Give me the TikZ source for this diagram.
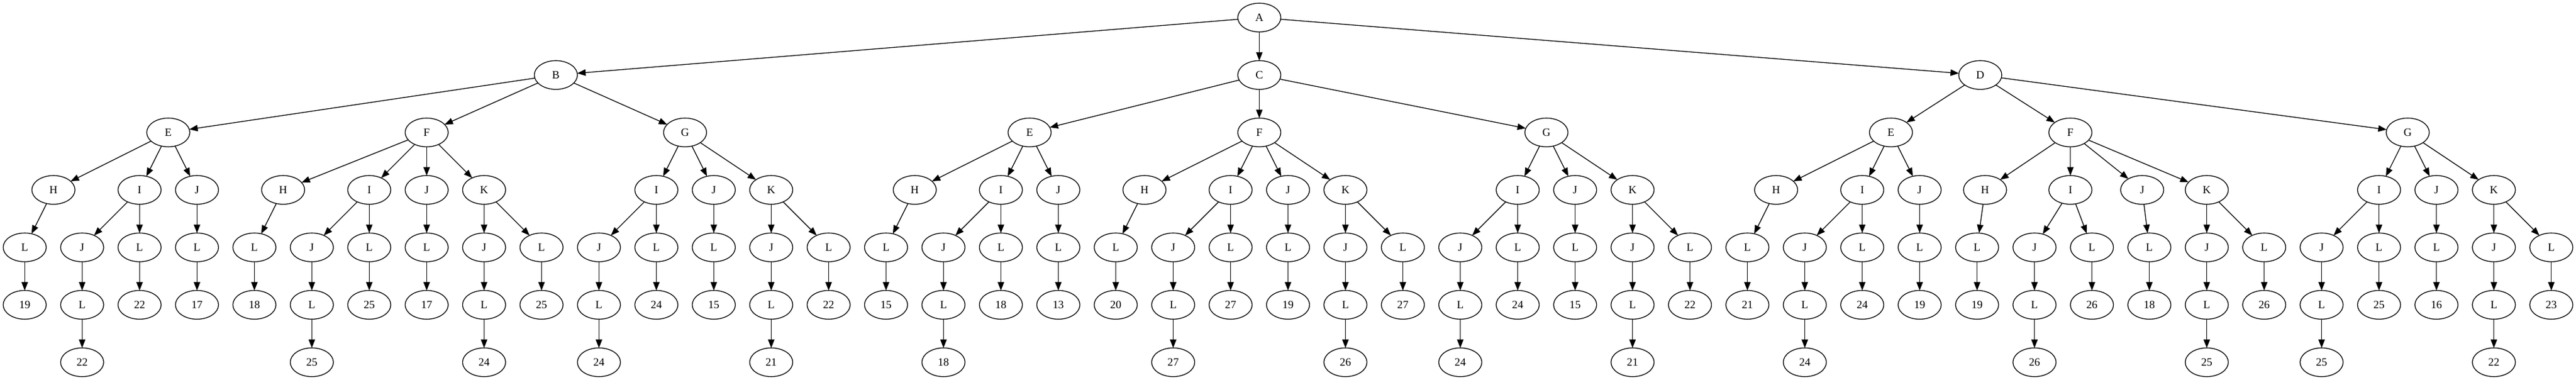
\documentclass[tikz,border=0pt]{standalone}
\usepackage{fontspec}
\setmainfont{Liberation Serif}
\usetikzlibrary{shapes.geometric,arrows.meta,positioning}

\begin{document}
\begin{tikzpicture}[
        x=1pt, y=1pt,
        node distance=36pt,
        vertex/.style={
            ellipse,
            draw=black,
            line width=1pt,
            minimum width=54pt,
            minimum height=36pt,
            inner sep=0pt,
            outer sep=0pt,
            font=\fontsize{14}{16}\selectfont
        },
        arrow/.style={
            ->,
            >={Triangle[length=10.5pt,width=8pt]},
            line width=1pt
        }
    ]
    \useasboundingbox (0,22) rectangle (3230,-454);

    % root and its three subtrees
    \node[vertex] (a) at (1579,0) {A};
    \node[vertex] (b) at (697,-72) {B};
    \node[vertex, below=of a] (c) {C};
    \node[vertex] (d) at (2483,-72) {D};

    % second level
    \foreach \n/\x/\t in {be/211/E, bf/535/F, bg/859/G,
                          ce/1291/E, cf/1579/F, cg/1939/G,
                          de/2371/E, df/2596/F, dg/3019/G}
        \node[vertex] (\n) at (\x,-144) {\t};

    % third level
    \foreach \n/\x/\t in {beh/67/H, bei/175/I, bej/247/J,
                          bfh/355/H, bfi/463/I, bfj/535/J, bfk/607/K,
                          bgi/823/I, bgj/895/J, bgk/967/K,
                          ceh/1147/H, cei/1255/I, cej/1327/J,
                          cfh/1435/H, cfi/1543/I, cfj/1615/J, cfk/1687/K,
                          cgi/1903/I, cgj/1975/J, cgk/2047/K,
                          deh/2227/H, dei/2335/I, dej/2407/J,
                          dfh/2489/H, dfi/2596/I, dfj/2686/J, dfk/2767/K,
                          dgi/2983/I, dgj/3055/J, dgk/3127/K}
        \node[vertex] (\n) at (\x,-216) {\t};

    % fourth level sits on a regular grid
    \foreach \k/\t in {0/L, 1/J, 2/L, 3/L, 4/L, 5/J, 6/L, 7/L, 8/J, 9/L,
                       10/J, 11/L, 12/L, 13/J, 14/L, 15/L, 16/J, 17/L, 18/L, 19/L,
                       20/J, 21/L, 22/L, 23/J, 24/L, 25/J, 26/L, 27/L, 28/J, 29/L,
                       30/L, 31/J, 32/L, 33/L, 34/L, 35/J, 36/L, 37/L, 38/J, 39/L,
                       40/J, 41/L, 42/L, 43/J, 44/L}
        \node[vertex] (n\k) at ({31+72*\k},-288) {\t};

    % fifth level, straight below
    \foreach \k/\t in {0/19, 1/L, 2/22, 3/17, 4/18, 5/L, 6/25, 7/17, 8/L, 9/25,
                       10/L, 11/24, 12/15, 13/L, 14/22, 15/15, 16/L, 17/18, 18/13, 19/20,
                       20/L, 21/27, 22/19, 23/L, 24/27, 25/L, 26/24, 27/15, 28/L, 29/22,
                       30/21, 31/L, 32/24, 33/19, 34/19, 35/L, 36/26, 37/18, 38/L, 39/26,
                       40/L, 41/25, 42/16, 43/L, 44/23}
    {
        \node[vertex, below=of n\k] (v\k) {\t};
        \draw[arrow] (n\k) -- (v\k);
    }

    % sixth level
    \foreach \k/\t in {1/22, 5/25, 8/24, 10/24, 13/21, 16/18, 20/27, 23/26,
                       25/24, 28/21, 31/24, 35/26, 38/25, 40/25, 43/22}
    {
        \node[vertex, below=of v\k] (w\k) {\t};
        \draw[arrow] (v\k) -- (w\k);
    }

    % connections of the upper levels
    \foreach \p/\c in {a/b, a/c, a/d, b/be, b/bf, b/bg,
                       c/ce, c/cf, c/cg, d/de, d/df, d/dg}
        \draw[arrow] (\p) -- (\c);

    \foreach \p/\cs in {be/{h,i,j}, bf/{h,i,j,k}, bg/{i,j,k},
                        ce/{h,i,j}, cf/{h,i,j,k}, cg/{i,j,k},
                        de/{h,i,j}, df/{h,i,j,k}, dg/{i,j,k}}
        \foreach \s in \cs
            \draw[arrow] (\p) -- (\p\s);

    \foreach \p/\ks in {beh/{0}, bei/{1,2}, bej/{3}, bfh/{4}, bfi/{5,6}, bfj/{7},
                        bfk/{8,9}, bgi/{10,11}, bgj/{12}, bgk/{13,14},
                        ceh/{15}, cei/{16,17}, cej/{18}, cfh/{19}, cfi/{20,21}, cfj/{22},
                        cfk/{23,24}, cgi/{25,26}, cgj/{27}, cgk/{28,29},
                        deh/{30}, dei/{31,32}, dej/{33}, dfh/{34}, dfi/{35,36}, dfj/{37},
                        dfk/{38,39}, dgi/{40,41}, dgj/{42}, dgk/{43,44}}
        \foreach \k in \ks
            \draw[arrow] (\p) -- (n\k);

\end{tikzpicture}
\end{document}
